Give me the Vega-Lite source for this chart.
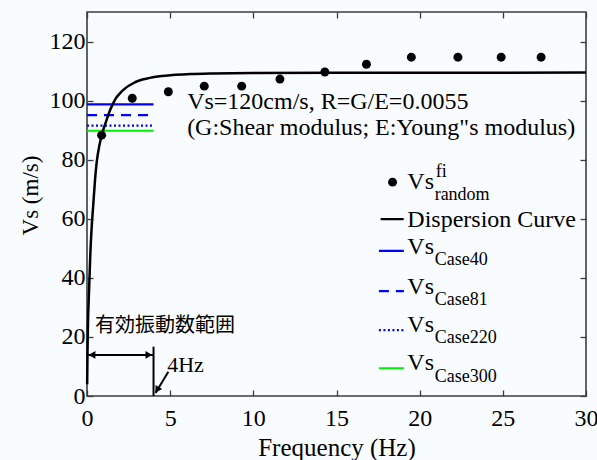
{
  "$schema": "https://vega.github.io/schema/vega-lite/v6.json",
  "width": 499,
  "height": 384,
  "autosize": "none",
  "padding": {"left": 87, "top": 12, "right": 11, "bottom": 64},
  "background": "#f8fcfe",
  "config": {
    "font": "Liberation Serif",
    "view": {"stroke": "#3c3c3c", "strokeWidth": 1.6, "fill": "#f8fcfe"},
    "axis": {
      "grid": false,
      "domain": false,
      "tickColor": "#3c3c3c",
      "tickWidth": 1.3,
      "tickSize": -6,
      "labelFlush": false,
      "labelFont": "Liberation Serif",
      "labelFontSize": 24,
      "labelColor": "#000000",
      "titleFont": "Liberation Serif",
      "titleFontWeight": "normal",
      "titleColor": "#000000"
    }
  },
  "datasets": {
    "curve": [
      {"x": 0.01, "y": 4}, {"x": 0.03, "y": 15}, {"x": 0.06, "y": 25}, {"x": 0.1, "y": 32},
      {"x": 0.15, "y": 40}, {"x": 0.2, "y": 48}, {"x": 0.28, "y": 57}, {"x": 0.38, "y": 65},
      {"x": 0.48, "y": 73}, {"x": 0.58, "y": 79}, {"x": 0.75, "y": 85}, {"x": 0.94, "y": 89.4},
      {"x": 1.15, "y": 93}, {"x": 1.34, "y": 96.1}, {"x": 1.55, "y": 98.8}, {"x": 1.75, "y": 100.9},
      {"x": 2.05, "y": 102.9}, {"x": 2.35, "y": 104.4}, {"x": 2.75, "y": 105.8}, {"x": 3.15, "y": 106.8},
      {"x": 3.55, "y": 107.4}, {"x": 3.96, "y": 107.9}, {"x": 4.5, "y": 108.3}, {"x": 5.16, "y": 108.7},
      {"x": 6.2, "y": 109.0}, {"x": 7.57, "y": 109.2}, {"x": 10, "y": 109.35}, {"x": 15, "y": 109.4},
      {"x": 30, "y": 109.5}
    ],
    "points": [
      {"x": 0.88, "y": 88.3}, {"x": 2.72, "y": 100.8}, {"x": 4.89, "y": 103}, {"x": 7.05, "y": 104.9},
      {"x": 9.3, "y": 104.9}, {"x": 11.6, "y": 107.3}, {"x": 14.3, "y": 109.7}, {"x": 16.8, "y": 112.3},
      {"x": 19.5, "y": 114.7}, {"x": 22.3, "y": 114.7}, {"x": 24.9, "y": 114.7}, {"x": 27.3, "y": 114.7}
    ],
    "legendDot": [{"x": 18.37, "y": 72.4}],
    "cases": [
      {"case": "Case40", "x": 0, "x2": 4, "y": 98.7},
      {"case": "Case81", "x": 0, "x2": 4, "y": 95.1},
      {"case": "Case220", "x": 0, "x2": 4, "y": 91.5},
      {"case": "Case300", "x": 0, "x2": 4, "y": 89.8},
      {"case": "Dispersion", "x": 17.65, "x2": 19.04, "y": 59.9},
      {"case": "Case40", "x": 17.55, "x2": 19.05, "y": 49.1},
      {"case": "Case81", "x": 17.55, "x2": 19.05, "y": 35.5},
      {"case": "Case220", "x": 17.55, "x2": 19.05, "y": 22.3},
      {"case": "Case300", "x": 17.55, "x2": 19.05, "y": 9.4}
    ],
    "mainText": [
      {"x": 6.02, "y": 99.6, "text": "Vs=120cm/s, R=G/E=0.0055"},
      {"x": 6.02, "y": 90.6, "text": "(G:Shear modulus; E:Young\"s modulus)"},
      {"x": 19.26, "y": 72.4, "text": "Vs"},
      {"x": 19.26, "y": 59.6, "text": "Dispersion Curve"},
      {"x": 19.26, "y": 50.5, "text": "Vs"},
      {"x": 19.26, "y": 37.0, "text": "Vs"},
      {"x": 19.26, "y": 24.0, "text": "Vs"},
      {"x": 19.26, "y": 11.1, "text": "Vs"}
    ],
    "subText": [
      {"x": 20.96, "y": 75.9, "text": "fi"},
      {"x": 20.9, "y": 68.0, "text": "random"},
      {"x": 20.9, "y": 46.0, "text": "Case40"},
      {"x": 20.9, "y": 32.5, "text": "Case81"},
      {"x": 20.9, "y": 19.5, "text": "Case220"},
      {"x": 20.9, "y": 6.5, "text": "Case300"}
    ],
    "jpText": [{"x": 0.48, "y": 23.7, "text": "有効振動数範囲"}],
    "hzText": [{"x": 4.82, "y": 10.5, "text": "4Hz"}],
    "arrowLines": [
      {"x": 0, "y": 13.9, "x2": 4, "y2": 13.9},
      {"x": 4, "y": 0, "x2": 4, "y2": 16.7},
      {"x": 4.89, "y": 8.2, "x2": 4.12, "y2": 1.0}
    ],
    "headLeft": [{"x": 0.3, "y": 13.9}],
    "headRight": [{"x": 3.72, "y": 13.9}],
    "headDiag": [{"x": 4.25, "y": 2.4}],
    "dummy": [{"x": 0, "y": 0}]
  },
  "layer": [
    {
      "layer": [
        {
          "data": {"name": "cases"},
          "mark": {"type": "rule", "strokeWidth": 2.2},
          "encoding": {
            "x": {
              "field": "x", "type": "quantitative",
              "scale": {"domain": [0, 30], "nice": false},
              "axis": {"title": "Frequency (Hz)", "values": [0, 5, 10, 15, 20, 25, 30], "labelPadding": 16, "titleFontSize": 25, "titleY": 51, "titleBaseline": "middle"}
            },
            "x2": {"field": "x2"},
            "y": {
              "field": "y", "type": "quantitative",
              "scale": {"domain": [0, 130], "nice": false},
              "axis": {"title": "Vs (m/s)", "values": [0, 20, 40, 60, 80, 100, 120], "labelPadding": 8, "titleFontSize": 23, "titleX": -57, "titleY": 183, "titleAngle": -90, "titleAlign": "center", "titleBaseline": "middle"}
            },
            "color": {
              "field": "case", "type": "nominal",
              "scale": {"domain": ["Case40", "Case81", "Case220", "Case300", "Dispersion"], "range": ["#0000ff", "#0000ff", "#0000ff", "#00ee00", "#000000"]},
              "legend": null
            },
            "strokeDash": {
              "field": "case", "type": "nominal",
              "scale": {"domain": ["Case40", "Case81", "Case220", "Case300", "Dispersion"], "range": [[1, 0], [10, 7], [2, 2.5], [1, 0], [1, 0]]},
              "legend": null
            }
          }
        },
        {
          "data": {"name": "curve"},
          "mark": {"type": "line", "color": "#000000", "strokeWidth": 2.5, "interpolate": "monotone"},
          "encoding": {
            "x": {"field": "x", "type": "quantitative"},
            "y": {"field": "y", "type": "quantitative"}
          }
        },
        {
          "data": {"name": "points"},
          "mark": {"type": "point", "shape": "circle", "filled": true, "color": "#000000", "size": 80, "opacity": 1},
          "encoding": {
            "x": {"field": "x", "type": "quantitative"},
            "y": {"field": "y", "type": "quantitative"}
          }
        },
        {
          "data": {"name": "legendDot"},
          "mark": {"type": "point", "shape": "circle", "filled": true, "color": "#000000", "size": 80, "opacity": 1},
          "encoding": {
            "x": {"field": "x", "type": "quantitative"},
            "y": {"field": "y", "type": "quantitative"}
          }
        },
        {
          "data": {"name": "arrowLines"},
          "mark": {"type": "rule", "color": "#000000", "strokeWidth": 2},
          "encoding": {
            "x": {"field": "x", "type": "quantitative"},
            "y": {"field": "y", "type": "quantitative"},
            "x2": {"field": "x2"},
            "y2": {"field": "y2"}
          }
        },
        {
          "data": {"name": "headLeft"},
          "mark": {"type": "point", "shape": "triangle-left", "filled": true, "color": "#000000", "size": 60, "opacity": 1},
          "encoding": {
            "x": {"field": "x", "type": "quantitative"},
            "y": {"field": "y", "type": "quantitative"}
          }
        },
        {
          "data": {"name": "headRight"},
          "mark": {"type": "point", "shape": "triangle-right", "filled": true, "color": "#000000", "size": 60, "opacity": 1},
          "encoding": {
            "x": {"field": "x", "type": "quantitative"},
            "y": {"field": "y", "type": "quantitative"}
          }
        },
        {
          "data": {"name": "headDiag"},
          "mark": {"type": "point", "shape": "triangle", "angle": 211, "filled": true, "color": "#000000", "size": 60, "opacity": 1},
          "encoding": {
            "x": {"field": "x", "type": "quantitative"},
            "y": {"field": "y", "type": "quantitative"}
          }
        },
        {
          "data": {"name": "mainText"},
          "mark": {"type": "text", "font": "Liberation Serif", "fontSize": 24, "align": "left", "baseline": "middle", "color": "#000000"},
          "encoding": {
            "x": {"field": "x", "type": "quantitative"},
            "y": {"field": "y", "type": "quantitative"},
            "text": {"field": "text"}
          }
        },
        {
          "data": {"name": "subText"},
          "mark": {"type": "text", "font": "Liberation Serif", "fontSize": 18, "align": "left", "baseline": "middle", "color": "#000000"},
          "encoding": {
            "x": {"field": "x", "type": "quantitative"},
            "y": {"field": "y", "type": "quantitative"},
            "text": {"field": "text"}
          }
        },
        {
          "data": {"name": "jpText"},
          "mark": {"type": "text", "font": "Noto Sans CJK JP", "fontSize": 20, "align": "left", "baseline": "middle", "color": "#000000"},
          "encoding": {
            "x": {"field": "x", "type": "quantitative"},
            "y": {"field": "y", "type": "quantitative"},
            "text": {"field": "text"}
          }
        },
        {
          "data": {"name": "hzText"},
          "mark": {"type": "text", "font": "Liberation Serif", "fontSize": 22, "align": "left", "baseline": "middle", "color": "#000000"},
          "encoding": {
            "x": {"field": "x", "type": "quantitative"},
            "y": {"field": "y", "type": "quantitative"},
            "text": {"field": "text"}
          }
        }
      ]
    },
    {
      "data": {"name": "dummy"},
      "mark": {"type": "point", "opacity": 0},
      "encoding": {
        "x": {"field": "x", "type": "quantitative", "axis": {"orient": "top", "title": null, "labels": false, "values": [0, 5, 10, 15, 20, 25, 30]}},
        "y": {"field": "y", "type": "quantitative", "axis": {"orient": "right", "title": null, "labels": false, "values": [0, 20, 40, 60, 80, 100, 120]}}
      }
    }
  ],
  "resolve": {"axis": {"x": "independent", "y": "independent"}}
}
